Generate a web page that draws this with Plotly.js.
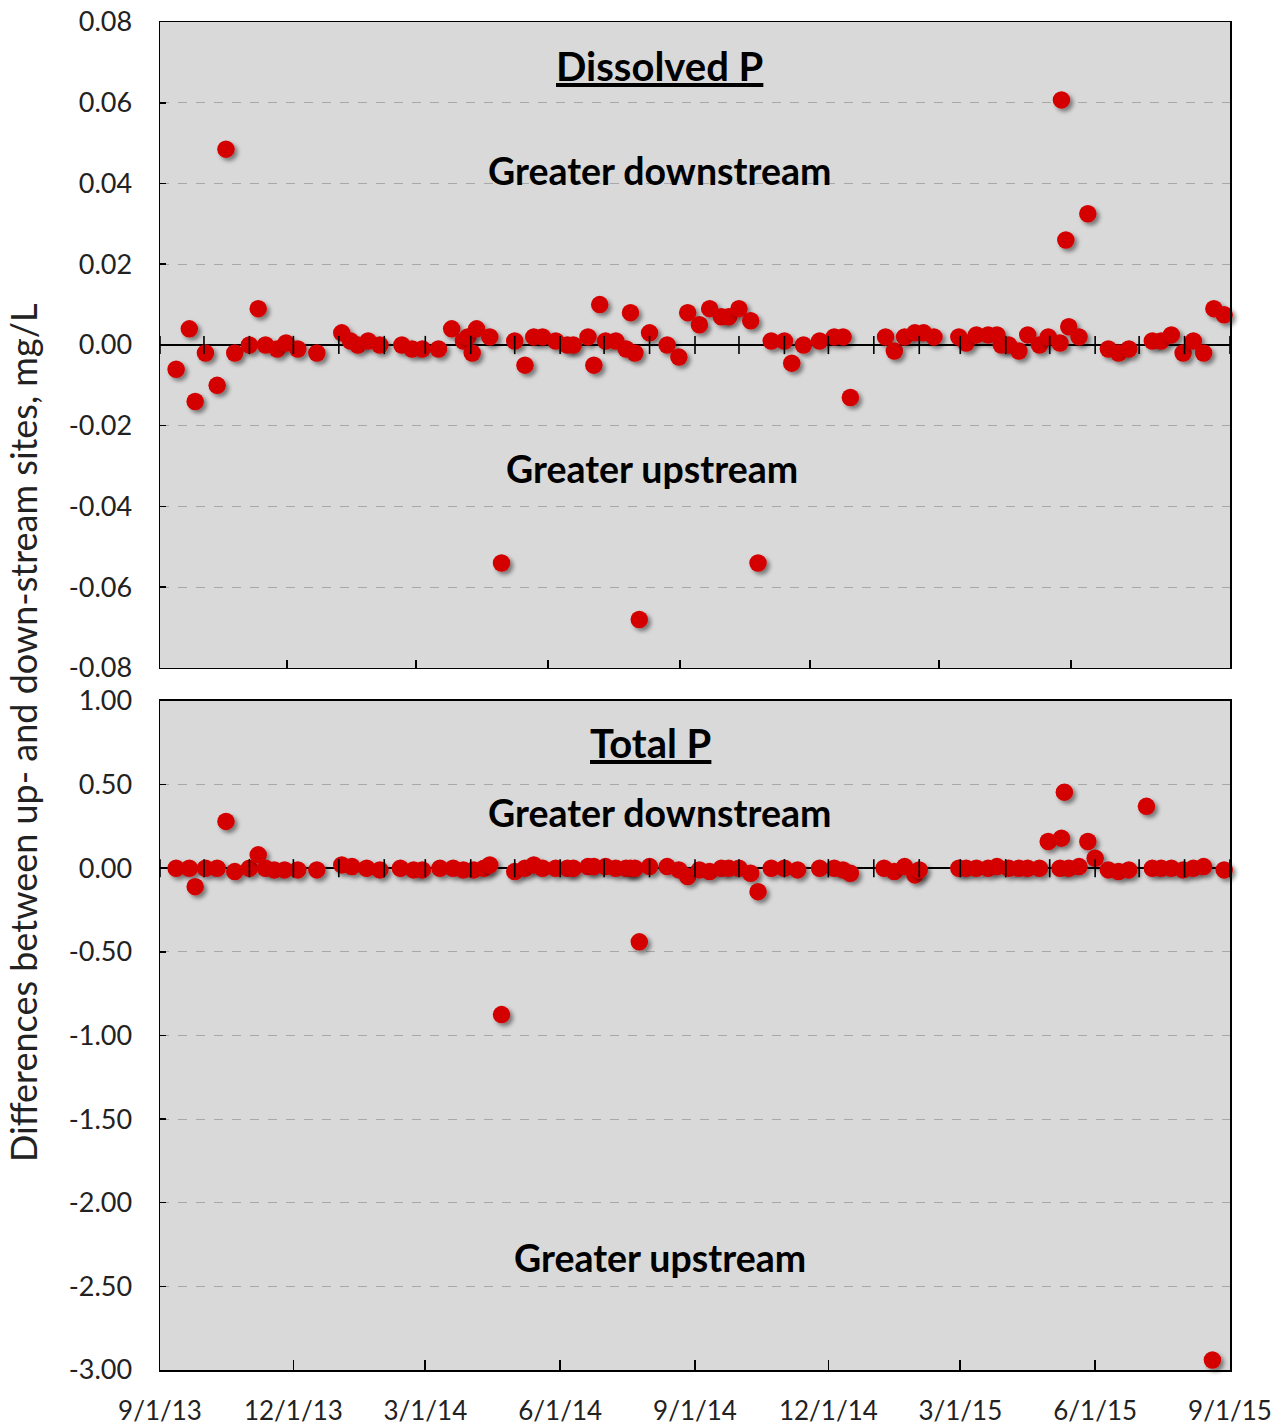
<!DOCTYPE html>
<html><head><meta charset="utf-8">
<script src="https://cdn.plot.ly/plotly-3.0.1.min.js"></script>
<style>html,body{margin:0;padding:0;background:#fff;} #chart{width:1285px;height:1427px;}</style>
</head><body>
<div id="chart"></div>
<script>
// ---- Data ----
const dissolvedDates = [
 '2013-09-12','2013-09-21','2013-09-25','2013-10-02','2013-10-10','2013-10-16','2013-10-22','2013-11-01','2013-11-07','2013-11-12',
 '2013-11-20','2013-11-26','2013-12-04','2013-12-17','2014-01-03','2014-01-09','2014-01-14','2014-01-21','2014-01-29','2014-02-13',
 '2014-02-20','2014-02-27','2014-03-10','2014-03-19','2014-03-27','2014-03-30','2014-04-02','2014-04-05','2014-04-14','2014-04-22',
 '2014-05-01','2014-05-08','2014-05-14','2014-05-20','2014-05-29','2014-06-06','2014-06-10','2014-06-20','2014-06-24','2014-06-28',
 '2014-07-02','2014-07-09','2014-07-16','2014-07-19','2014-07-22','2014-07-25','2014-08-01','2014-08-13','2014-08-21','2014-08-27',
 '2014-09-04','2014-09-11','2014-09-19','2014-09-24','2014-10-01','2014-10-09','2014-10-14','2014-10-23','2014-11-01','2014-11-06',
 '2014-11-14','2014-11-25','2014-12-05','2014-12-11','2014-12-16','2015-01-09','2015-01-15','2015-01-22','2015-01-29','2015-02-04',
 '2015-02-11','2015-02-28','2015-03-05','2015-03-12','2015-03-20','2015-03-26','2015-03-29','2015-04-03','2015-04-10','2015-04-16',
 '2015-04-24','2015-04-30','2015-05-08','2015-05-09','2015-05-12','2015-05-14','2015-05-21','2015-05-27','2015-06-10','2015-06-17',
 '2015-06-24','2015-07-10','2015-07-16','2015-07-23','2015-07-31','2015-08-07','2015-08-14','2015-08-21','2015-08-28'
];
const dissolvedValues = [
 -0.006, 0.004, -0.014, -0.002, -0.010, 0.0485, -0.002, 0.000, 0.009, 0.000,
 -0.001, 0.0005, -0.001, -0.002, 0.003, 0.001, 0.000, 0.001, 0.000, 0.000,
 -0.001, -0.001, -0.001, 0.004, 0.001, 0.002, -0.002, 0.004, 0.002, -0.054,
 0.001, -0.005, 0.002, 0.002, 0.001, 0.000, 0.000, 0.002, -0.005, 0.010,
 0.001, 0.001, -0.001, 0.008, -0.002, -0.068, 0.003, 0.000, -0.003, 0.008,
 0.005, 0.009, 0.007, 0.007, 0.009, 0.006, -0.054, 0.001, 0.001, -0.0045,
 0.000, 0.001, 0.002, 0.002, -0.013, 0.002, -0.0015, 0.002, 0.003, 0.003,
 0.002, 0.002, 0.0005, 0.0025, 0.0025, 0.0025, 0.000, 0.000, -0.0015, 0.0025,
 0.000, 0.002, 0.0005, 0.0607, 0.026, 0.0045, 0.002, 0.0325, -0.001, -0.002,
 -0.001, 0.001, 0.001, 0.0025, -0.002, 0.001, -0.002, 0.009, 0.0075
];
const totalDates = [
 '2013-09-12','2013-09-21','2013-09-25','2013-10-02','2013-10-10','2013-10-16','2013-10-22','2013-11-01','2013-11-07','2013-11-12',
 '2013-11-18','2013-11-25','2013-12-04','2013-12-17','2014-01-03','2014-01-10','2014-01-20','2014-01-29','2014-02-12','2014-02-21',
 '2014-02-27','2014-03-11','2014-03-20','2014-03-27','2014-04-03','2014-04-10','2014-04-14','2014-04-22','2014-05-01','2014-05-08',
 '2014-05-14','2014-05-20','2014-05-29','2014-06-06','2014-06-10','2014-06-20','2014-06-24','2014-07-02','2014-07-09','2014-07-16',
 '2014-07-19','2014-07-22','2014-07-25','2014-08-01','2014-08-13','2014-08-21','2014-08-27','2014-09-04','2014-09-11','2014-09-19',
 '2014-09-24','2014-10-01','2014-10-09','2014-10-14','2014-10-23','2014-11-01','2014-11-10','2014-11-25','2014-12-05','2014-12-11',
 '2014-12-16','2015-01-08','2015-01-15','2015-01-22','2015-01-29','2015-02-01','2015-02-28','2015-03-05','2015-03-12','2015-03-20',
 '2015-03-26','2015-04-03','2015-04-10','2015-04-16','2015-04-24','2015-04-30','2015-05-08','2015-05-09','2015-05-11','2015-05-14',
 '2015-05-21','2015-05-27','2015-06-01','2015-06-10','2015-06-17','2015-06-24','2015-07-06','2015-07-10','2015-07-16','2015-07-23',
 '2015-07-31','2015-08-07','2015-08-14','2015-08-20','2015-08-28'
];
const totalValues = [
 0.00, 0.00, -0.11, 0.00, 0.00, 0.28, -0.02, 0.00, 0.08, 0.00,
 -0.01, -0.01, -0.01, -0.01, 0.02, 0.01, 0.00, -0.01, 0.00, -0.01,
 -0.01, 0.00, 0.00, -0.01, -0.01, 0.00, 0.02, -0.875, -0.02, 0.00,
 0.02, 0.00, 0.00, 0.00, 0.00, 0.01, 0.01, 0.01, 0.00, 0.00,
 0.00, 0.00, -0.44, 0.01, 0.01, -0.01, -0.05, -0.01, -0.02, 0.00,
 0.00, 0.00, -0.03, -0.14, 0.00, 0.00, -0.01, 0.00, 0.00, -0.01,
 -0.03, 0.00, -0.02, 0.01, -0.04, -0.01, 0.00, 0.00, 0.00, 0.00,
 0.01, 0.00, 0.00, 0.00, 0.00, 0.16, 0.00, 0.18, 0.455, 0.00,
 0.01, 0.16, 0.06, -0.01, -0.02, -0.01, 0.37, 0.00, 0.00, 0.00,
 -0.01, 0.00, 0.01, -2.94, -0.01
];
const xTickDates = ['2013-09-01','2013-12-01','2014-03-01','2014-06-01','2014-09-01','2014-12-01','2015-03-01','2015-06-01','2015-09-01'];
const xTickLabels = ['9/1/13','12/1/13','3/1/14','6/1/14','9/1/14','12/1/14','3/1/15','6/1/15','9/1/15'];
const topTickVals = [-0.08,-0.06,-0.04,-0.02,0,0.02,0.04,0.06,0.08];
const topTickLabels = ['-0.08','-0.06','-0.04','-0.02','0.00','0.02','0.04','0.06','0.08'];
const botTickVals = [-3,-2.5,-2,-1.5,-1,-0.5,0,0.5,1];
const botTickLabels = ['-3.00','-2.50','-2.00','-1.50','-1.00','-0.50','0.00','0.50','1.00'];
const panelTitles = ['Dissolved P','Total P'];
const regionLabels = ['Greater downstream','Greater upstream'];
const yTitle = 'Differences between up- and down-stream sites, mg/L';

// monthly minor ticks drawn on the zero lines (axis decoration)
const monthTicks = [];
for (let y = 2013, m = 9; y < 2015 || (y === 2015 && m <= 9); ) {
  monthTicks.push(y + '-' + String(m).padStart(2,'0') + '-01');
  m++; if (m > 12) { m = 1; y++; }
}

const FONT = 'Lato, "Open Sans", "DejaVu Sans", sans-serif';
const RED = '#d40000';
const xRange = ['2013-09-01','2015-09-01'];
const xRangeTopTicks = ['2013-09-03 09:00','2015-09-19 21:00'];

const markerStyle = {color: RED, size: 17.5, line: {width: 0}};
const traces = [
  {x: dissolvedDates, y: dissolvedValues, type: 'scatter', mode: 'markers', marker: markerStyle, xaxis: 'x', yaxis: 'y', hoverinfo: 'skip', cliponaxis: false},
  {x: totalDates, y: totalValues, type: 'scatter', mode: 'markers', marker: markerStyle, xaxis: 'x2', yaxis: 'y2', hoverinfo: 'skip', cliponaxis: false},
  {x: monthTicks, y: monthTicks.map(() => 0), type: 'scatter', mode: 'markers', xaxis: 'x', yaxis: 'y', hoverinfo: 'skip',
   marker: {symbol: 'line-ns', size: 13, color: '#000', line: {color: '#000', width: 1.6}}},
  {x: monthTicks, y: monthTicks.map(() => 0), type: 'scatter', mode: 'markers', xaxis: 'x2', yaxis: 'y2', hoverinfo: 'skip',
   marker: {symbol: 'line-ns', size: 13, color: '#000', line: {color: '#000', width: 1.6}}},
  {x: [xRangeTopTicks[0]], y: [0], type: 'scatter', mode: 'markers', xaxis: 'x3', yaxis: 'y', hoverinfo: 'skip', marker: {opacity: 0}}
];

const axisCommon = {showline: true, mirror: true, linecolor: '#000', linewidth: 1.5};
const yCommon = Object.assign({}, axisCommon, {
  showgrid: true, gridcolor: '#a8a8a8', griddash: 'dash', gridwidth: 1,
  zeroline: true, zerolinecolor: '#000', zerolinewidth: 1.6,
  ticks: 'inside', ticklen: 6, tickcolor: '#000', tickwidth: 1.5,
  tickfont: {family: FONT, size: 27, color: '#222'}, ticklabelstandoff: 21
});

const annFont = (s) => ({family: FONT, size: s, color: '#000'});
const annotations = [
  {text: '<b><u>' + panelTitles[0] + '</u></b>', x: 0.467, y: 0.9674, font: annFont(40)},
  {text: '<b>' + regionLabels[0] + '</b>', x: 0.467, y: 0.8895, font: annFont(37.5)},
  {text: '<b>' + regionLabels[1] + '</b>', x: 0.4598, y: 0.6684, font: annFont(37.5)},
  {text: '<b><u>' + panelTitles[1] + '</u></b>', x: 0.458, y: 0.4651, font: annFont(40)},
  {text: '<b>' + regionLabels[0] + '</b>', x: 0.467, y: 0.4139, font: annFont(37.5)},
  {text: '<b>' + regionLabels[1] + '</b>', x: 0.467, y: 0.0838, font: annFont(37.5)},
  {text: yTitle, x: -0.128, y: 0.4726, textangle: -90, font: Object.assign(annFont(36), {color: '#222'})}
].map(a => Object.assign({xref: 'paper', yref: 'paper', showarrow: false, xanchor: 'center', yanchor: 'middle'}, a));

const layout = {
  width: 1285, height: 1427,
  margin: {l: 160, r: 55, t: 22, b: 57},
  paper_bgcolor: '#fff', plot_bgcolor: '#d9d9d9',
  showlegend: false, hovermode: false,
  font: {family: FONT, color: '#222'},
  xaxis: Object.assign({}, axisCommon, {type: 'date', range: xRange, anchor: 'y', matches: 'x2',
    showticklabels: false, ticks: '', showgrid: false, zeroline: false}),
  xaxis3: {type: 'date', range: xRangeTopTicks, overlaying: 'x', anchor: 'y', side: 'bottom',
    tickvals: xTickDates.slice(1, 8), showticklabels: false, ticks: 'inside', ticklen: 8, tickwidth: 1.6, tickcolor: '#000',
    showgrid: false, zeroline: false, showline: false},
  xaxis2: Object.assign({}, axisCommon, {type: 'date', range: xRange, anchor: 'y2',
    tickvals: xTickDates, ticktext: xTickLabels, ticks: 'inside', ticklen: 10, tickwidth: 1.6, tickcolor: '#000',
    tickfont: {family: FONT, size: 26, color: '#222'}, ticklabelstandoff: 17, showgrid: false, zeroline: false}),
  yaxis: Object.assign({}, yCommon, {domain: [0.5208, 1], range: [-0.08, 0.08], tickvals: topTickVals, ticktext: topTickLabels}),
  yaxis2: Object.assign({}, yCommon, {domain: [0, 0.4963], range: [-3, 1], tickvals: botTickVals, ticktext: botTickLabels}),
  annotations: annotations
};

Plotly.newPlot('chart', traces, layout, {displayModeBar: false, staticPlot: true}).then(() => {
  const svg = document.querySelector('#chart .main-svg');
  const NS = 'http://www.w3.org/2000/svg';
  let defs = svg.querySelector('defs');
  if (!defs) { defs = document.createElementNS(NS, 'defs'); svg.insertBefore(defs, svg.firstChild); }
  const f = document.createElementNS(NS, 'filter');
  f.setAttribute('id', 'dshadow');
  f.setAttribute('x', '-60%'); f.setAttribute('y', '-60%');
  f.setAttribute('width', '220%'); f.setAttribute('height', '220%');
  const ds = document.createElementNS(NS, 'feDropShadow');
  ds.setAttribute('dx', '3'); ds.setAttribute('dy', '3'); ds.setAttribute('stdDeviation', '2');
  ds.setAttribute('flood-color', '#000'); ds.setAttribute('flood-opacity', '0.45');
  f.appendChild(ds); defs.appendChild(f);
  document.querySelectorAll('#chart path.point').forEach(p => {
    const fill = (p.style.fill || p.getAttribute('fill') || '');
    if (fill.indexOf('212') >= 0) p.setAttribute('filter', 'url(#dshadow)');
  });
});
</script>
</body></html>
